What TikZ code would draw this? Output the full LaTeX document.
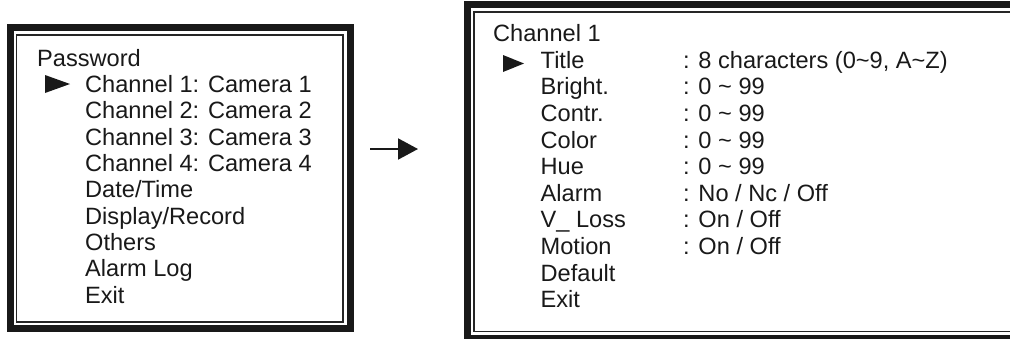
\documentclass[tikz,border=0pt]{standalone}
\usepackage{fontspec}
\setmainfont{Liberation Sans}
\usetikzlibrary{arrows.meta}
\begin{document}
\begin{tikzpicture}[x={(1pt,0)},y={(0,-1pt)},
  thickframe/.style={line width=7pt,draw=black!90},
  thinframe/.style={line width=1.6pt,draw=black!85},
  txt/.style={anchor=base west,inner sep=0pt,font=\fontsize{23.6}{26}\selectfont,text=black!90},
  marker/.style={fill=black!90},
  flowarrow/.style={line width=2pt,draw=black!90,-{Triangle[length=20pt,width=21pt]}}]
\useasboundingbox (0,0) rectangle (1010,338);
\begin{scope}
\clip (0,0) rectangle (1010,338);
% left box
\draw[thickframe] (10.5,27) rectangle (350,328.5);
\draw[thinframe] (16.5,35) rectangle (343,322);
% right box
\draw[thickframe] (467,4.5) rectangle (1020,338);
\draw[thinframe] (474,12) rectangle (1013,331.5);
\end{scope}
% left menu
\node[txt] (pw) at (37,66) {Password};
\foreach \t [count=\i] in {Channel 1: Camera 1,Channel 2: Camera 2,Channel 3: Camera 3,Channel 4: Camera 4,Date/Time,Display/Record,Others,Alarm Log,Exit}
  \node[txt] (l\i) at (85,66+26.35*\i) {\t};
\fill[marker] (45,75) -- (45,93) -- (70,84) -- cycle;
% arrow
\coordinate (arrS) at (370,149);
\coordinate (arrE) at (418,149);
\draw[flowarrow] (arrS) -- (arrE);
% right menu
\node[txt] (ch) at (493,41.7) {Channel 1};
\foreach \t/\v [count=\i] in {Title/{: 8 characters (0\char`~9, A\char`~Z)},Bright./{: 0 \char`~\ 99},Contr./{: 0 \char`~\ 99},Color/{: 0 \char`~\ 99},Hue/{: 0 \char`~\ 99},Alarm/{: No / Nc / Off},V\_ Loss/{: On / Off},Motion/{: On / Off},Default/{},Exit/{}}
{
  \node[txt] (r\i) at (540.5,41.7+26.6*\i) {\t};
  \node[txt] (v\i) at (683,41.7+26.6*\i) {\v};
}
\fill[marker] (503,55) -- (503,72) -- (524,63.5) -- cycle;
\end{tikzpicture}
\end{document}
